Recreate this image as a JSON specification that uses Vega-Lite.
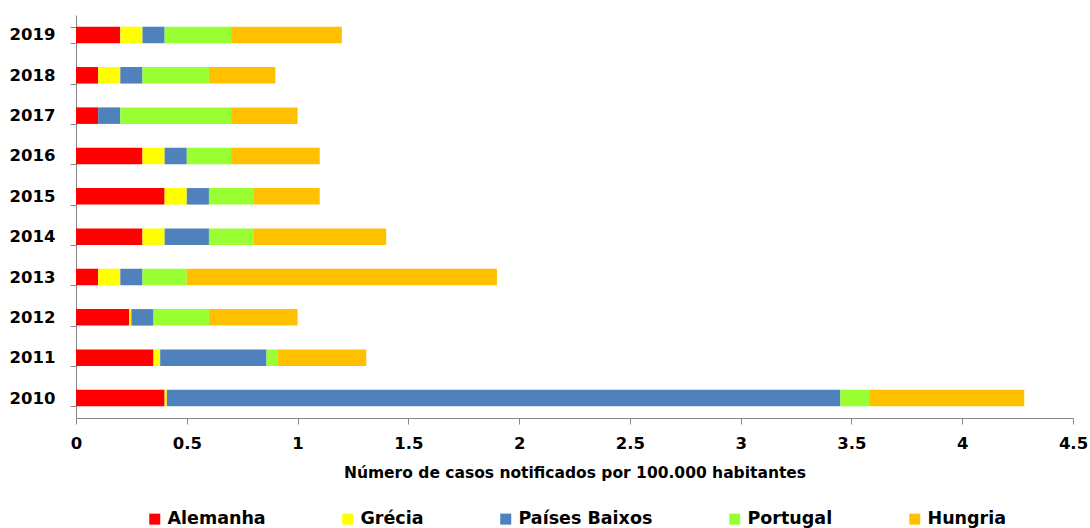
{
  "$schema": "https://vega.github.io/schema/vega-lite/v6.json",
  "width": 997,
  "height": 403,
  "autosize": {"type": "none"},
  "padding": {"left": 76, "top": 15, "right": 17, "bottom": 110},
  "background": "white",
  "data": {
    "values": [
      {"ano": "2019", "pais": "Alemanha", "ordem": 1, "valor": 0.2},
      {"ano": "2019", "pais": "Grécia", "ordem": 2, "valor": 0.1},
      {"ano": "2019", "pais": "Países Baixos", "ordem": 3, "valor": 0.1},
      {"ano": "2019", "pais": "Portugal", "ordem": 4, "valor": 0.3},
      {"ano": "2019", "pais": "Hungria", "ordem": 5, "valor": 0.5},
      {"ano": "2018", "pais": "Alemanha", "ordem": 1, "valor": 0.1},
      {"ano": "2018", "pais": "Grécia", "ordem": 2, "valor": 0.1},
      {"ano": "2018", "pais": "Países Baixos", "ordem": 3, "valor": 0.1},
      {"ano": "2018", "pais": "Portugal", "ordem": 4, "valor": 0.3},
      {"ano": "2018", "pais": "Hungria", "ordem": 5, "valor": 0.3},
      {"ano": "2017", "pais": "Alemanha", "ordem": 1, "valor": 0.1},
      {"ano": "2017", "pais": "Grécia", "ordem": 2, "valor": 0},
      {"ano": "2017", "pais": "Países Baixos", "ordem": 3, "valor": 0.1},
      {"ano": "2017", "pais": "Portugal", "ordem": 4, "valor": 0.5},
      {"ano": "2017", "pais": "Hungria", "ordem": 5, "valor": 0.3},
      {"ano": "2016", "pais": "Alemanha", "ordem": 1, "valor": 0.3},
      {"ano": "2016", "pais": "Grécia", "ordem": 2, "valor": 0.1},
      {"ano": "2016", "pais": "Países Baixos", "ordem": 3, "valor": 0.1},
      {"ano": "2016", "pais": "Portugal", "ordem": 4, "valor": 0.2},
      {"ano": "2016", "pais": "Hungria", "ordem": 5, "valor": 0.4},
      {"ano": "2015", "pais": "Alemanha", "ordem": 1, "valor": 0.4},
      {"ano": "2015", "pais": "Grécia", "ordem": 2, "valor": 0.1},
      {"ano": "2015", "pais": "Países Baixos", "ordem": 3, "valor": 0.1},
      {"ano": "2015", "pais": "Portugal", "ordem": 4, "valor": 0.2},
      {"ano": "2015", "pais": "Hungria", "ordem": 5, "valor": 0.3},
      {"ano": "2014", "pais": "Alemanha", "ordem": 1, "valor": 0.3},
      {"ano": "2014", "pais": "Grécia", "ordem": 2, "valor": 0.1},
      {"ano": "2014", "pais": "Países Baixos", "ordem": 3, "valor": 0.2},
      {"ano": "2014", "pais": "Portugal", "ordem": 4, "valor": 0.2},
      {"ano": "2014", "pais": "Hungria", "ordem": 5, "valor": 0.6},
      {"ano": "2013", "pais": "Alemanha", "ordem": 1, "valor": 0.1},
      {"ano": "2013", "pais": "Grécia", "ordem": 2, "valor": 0.1},
      {"ano": "2013", "pais": "Países Baixos", "ordem": 3, "valor": 0.1},
      {"ano": "2013", "pais": "Portugal", "ordem": 4, "valor": 0.2},
      {"ano": "2013", "pais": "Hungria", "ordem": 5, "valor": 1.4},
      {"ano": "2012", "pais": "Alemanha", "ordem": 1, "valor": 0.24},
      {"ano": "2012", "pais": "Grécia", "ordem": 2, "valor": 0.01},
      {"ano": "2012", "pais": "Países Baixos", "ordem": 3, "valor": 0.1},
      {"ano": "2012", "pais": "Portugal", "ordem": 4, "valor": 0.25},
      {"ano": "2012", "pais": "Hungria", "ordem": 5, "valor": 0.4},
      {"ano": "2011", "pais": "Alemanha", "ordem": 1, "valor": 0.35},
      {"ano": "2011", "pais": "Grécia", "ordem": 2, "valor": 0.03},
      {"ano": "2011", "pais": "Países Baixos", "ordem": 3, "valor": 0.48},
      {"ano": "2011", "pais": "Portugal", "ordem": 4, "valor": 0.05},
      {"ano": "2011", "pais": "Hungria", "ordem": 5, "valor": 0.4},
      {"ano": "2010", "pais": "Alemanha", "ordem": 1, "valor": 0.4},
      {"ano": "2010", "pais": "Grécia", "ordem": 2, "valor": 0.01},
      {"ano": "2010", "pais": "Países Baixos", "ordem": 3, "valor": 3.04},
      {"ano": "2010", "pais": "Portugal", "ordem": 4, "valor": 0.13},
      {"ano": "2010", "pais": "Hungria", "ordem": 5, "valor": 0.7}
    ]
  },
  "mark": {"type": "bar"},
  "encoding": {
    "y": {
      "field": "ano",
      "type": "nominal",
      "sort": "descending",
      "scale": {"paddingInner": 0.59, "paddingOuter": 0.29},
      "axis": {
        "title": null,
        "domainColor": "#868686",
        "tickColor": "#868686",
        "tickSize": 6,
        "tickBand": "extent",
        "labelPadding": 15,
        "labelFont": "DejaVu Sans",
        "labelFontWeight": "bold",
        "labelFontSize": 16.5,
        "labelColor": "#000000"
      }
    },
    "x": {
      "field": "valor",
      "type": "quantitative",
      "stack": "zero",
      "scale": {"domain": [0, 4.5], "nice": false},
      "axis": {
        "title": "Número de casos notificados por 100.000 habitantes",
        "values": [0, 0.5, 1, 1.5, 2, 2.5, 3, 3.5, 4, 4.5],
        "format": "~g",
        "grid": false,
        "domainColor": "#868686",
        "tickColor": "#868686",
        "tickSize": 6,
        "labelPadding": 11,
        "labelFont": "DejaVu Sans",
        "labelFontWeight": "bold",
        "labelFontSize": 16.5,
        "labelColor": "#000000",
        "labelOverlap": false,
        "labelFlush": false,
        "titleFont": "DejaVu Sans",
        "titleFontWeight": "bold",
        "titleFontSize": 15.5,
        "titleColor": "#000000",
        "titlePadding": 14
      }
    },
    "color": {
      "field": "pais",
      "type": "nominal",
      "sort": ["Alemanha", "Grécia", "Países Baixos", "Portugal", "Hungria"],
      "scale": {
        "domain": ["Alemanha", "Grécia", "Países Baixos", "Portugal", "Hungria"],
        "range": ["#FF0000", "#FFFF00", "#4F81BD", "#99FF33", "#FFC000"]
      },
      "legend": {
        "title": null,
        "orient": "none",
        "legendX": 70,
        "legendY": 495,
        "direction": "horizontal",
        "columns": 5,
        "columnPadding": 73,
        "symbolType": "square",
        "symbolSize": 121,
        "symbolStrokeWidth": 0,
        "labelOffset": 4,
        "labelFont": "DejaVu Sans",
        "labelFontWeight": "bold",
        "labelFontSize": 17.5,
        "labelColor": "#000000",
        "labelLimit": 400,
        "padding": 0
      }
    },
    "order": {"field": "ordem", "type": "quantitative", "sort": "ascending"}
  },
  "config": {"view": {"stroke": null}}
}
